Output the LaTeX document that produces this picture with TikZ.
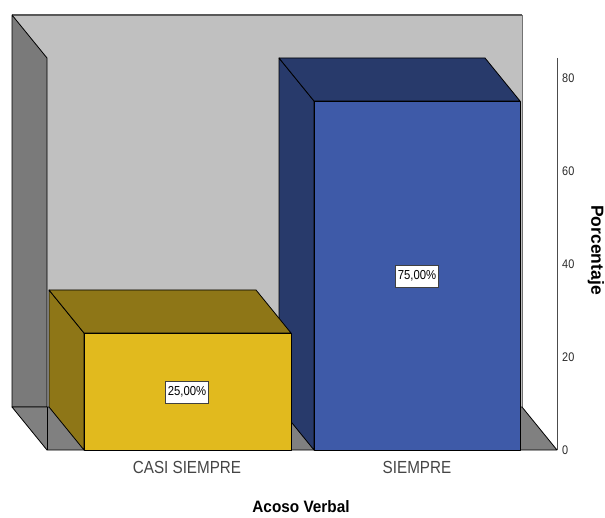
\documentclass[tikz,border=0pt]{standalone}
\usepackage{fontspec}
\setmainfont{Liberation Sans}
\newfontfamily\narrowfont[FakeStretch=0.87]{Liberation Sans}
\newfontfamily\titlefont[FakeStretch=0.93]{Liberation Sans}

\definecolor{wallback}{HTML}{C0C0C0}
\definecolor{wallside}{HTML}{7A7A7A}
\definecolor{floorgray}{HTML}{808080}
\definecolor{yellowfront}{HTML}{E1BA1E}
\definecolor{yellowdark}{HTML}{8E7617}
\definecolor{bluefront}{HTML}{3E5AA8}
\definecolor{bluedark}{HTML}{283A6B}
\definecolor{tickgray}{HTML}{2A2A2A}
\definecolor{labelgray}{HTML}{454545}

\tikzset{
  face/.style={draw=black, line width=0.8pt, line join=round},
  ticklabel/.style={anchor=west, inner sep=0pt, text=tickgray, font=\narrowfont\fontsize{12.5}{14}\selectfont},
  catlabel/.style={text=labelgray, font=\narrowfont\fontsize{17.5}{20}\selectfont},
  valuebox/.style={draw=black!75, fill=white, line width=0.7pt, inner xsep=2pt, inner ysep=0pt, minimum height=22pt, font=\narrowfont\fontsize{13}{15}\selectfont},
  axistitle/.style={font=\titlefont\bfseries\fontsize{16.5}{19}\selectfont}
}

% one 3D bar: front left x, front right x, front top y, colour prefix
\newcommand{\drawbar}[4]{%
  \filldraw[fill=#4dark, face] (#1-35,#3-43) -- (#1,#3) -- (#1,450) -- (#1-35,407) -- cycle;
  \filldraw[fill=#4dark, face] (#1-35,#3-43) -- (#2-35,#3-43) -- (#2,#3) -- (#1,#3) -- cycle;
  \filldraw[fill=#4front, face] (#1,#3) rectangle (#2,450);
}

\begin{document}
\begin{tikzpicture}[x=1pt, y=-1pt] % 1pt = 1 pixel of the chart, y going down
\useasboundingbox (0,0) rectangle (605,518);

%% walls and floor
\fill[wallback] (12,15) rectangle (522,407);
\draw[black!65, line width=1.5pt] (12,15) -- (522,15);
\draw[black!55, line width=0.8pt] (522,15) -- (522,407);
\filldraw[fill=wallside, face] (12,15) -- (47,58) -- (47,407) -- (12,407) -- cycle;
\filldraw[fill=floorgray, face] (12,407) -- (522,407) -- (557,450) -- (47,450) -- cycle;
\draw[face] (47,407) -- (47,450);

%% bars (blue first, yellow covers its side)
\drawbar{314}{520}{101}{blue}
\drawbar{84}{291}{333}{yellow}

% value labels
\node[valuebox] (v25) at (187,392) {25,00\%};
\node[valuebox] (v75) at (417,276) {75,00\%};

% scale on the right
\draw[black!70, line width=0.8pt] (557,58) -- (557,450);
\foreach\v in {0,20,40,60,80}
  {
  \node[ticklabel] (t\v) at (562,450-4.65*\v) {\v};
  }
\node[axistitle, font=\bfseries\fontsize{17.5}{20}\selectfont, rotate=-90] (ytitle) at (596,250) {Porcentaje};

% categories
\node[catlabel] (casi) at (187,467) {CASI SIEMPRE};
\node[catlabel] (siempre) at (417,467) {SIEMPRE};
\node[axistitle] (xtitle) at (301,507) {Acoso Verbal};

\end{tikzpicture}
\end{document}
